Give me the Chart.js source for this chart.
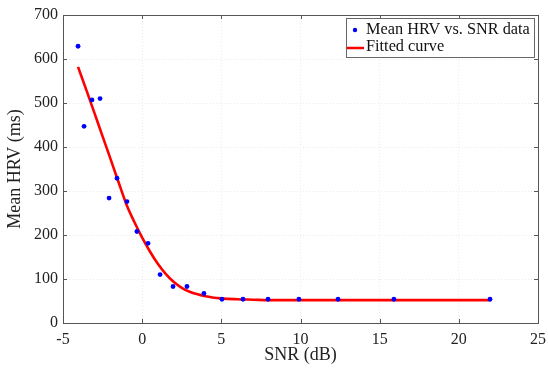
<!DOCTYPE html>
<html><head><meta charset="utf-8">
<script src="https://cdn.jsdelivr.net/npm/chart.js@4"></script>
<style>html,body{margin:0;padding:0;background:#fff}#wrap{width:548px;height:370px}</style>
</head><body><div id="wrap"><canvas id="c" width="548" height="370"></canvas></div>
<script>
const snrData = [-4.05,-3.67,-3.17,-2.66,-2.09,-1.59,-0.96,-0.33,0.37,1.13,1.95,2.83,3.9,5.04,6.37,7.95,9.9,12.37,15.9,21.97];
const hrvData = [629,447,507,510,284,329,276,208,181,110,83,83,67,54,54,54,54,54,54,54];
const fitX = [-4.05,-3.5,-3,-2.5,-2,-1.5,-1,-0.5,0,0.5,1,1.5,2,2.5,3,4,5,6,7,8,10,12,15,18,22];
const fitY = [582,527,476,424,373,321,270,230,194,162,134,111,93,80,71,61,56,54,53,52,52,52,52,52,52];
const xTicks = [-5,0,5,10,15,20,25];
const yTicks = [0,100,200,300,400,500,600,700];
const labels = ['Mean HRV vs. SNR data','Fitted curve'];

const FONT = '"Liberation Serif","Times New Roman",serif';
const legendPlugin = {
  id:'boxLegend',
  afterDraw(chart){
    const ctx=chart.ctx, a=chart.chartArea;
    const w=188,h=39,x=Math.round(a.right)-192,y=Math.round(a.top)+3;
    ctx.save();
    ctx.fillStyle='#fff';ctx.fillRect(x,y,w,h);
    ctx.strokeStyle='#666';ctx.lineWidth=1;ctx.strokeRect(x+0.5,y+0.5,w,h);
    ctx.font='16.3px '+FONT;ctx.textBaseline='middle';
    ctx.fillStyle='#0000ff';ctx.beginPath();ctx.arc(x+9,y+12,2.2,0,Math.PI*2);ctx.fill();
    ctx.fillStyle='#111';ctx.fillText(chart.data.datasets[0].label,x+20,y+12);
    ctx.strokeStyle='#ff0000';ctx.lineWidth=2.5;ctx.beginPath();ctx.moveTo(x+1,y+30);ctx.lineTo(x+18,y+30);ctx.stroke();
    ctx.fillText(chart.data.datasets[1].label,x+20,y+29);
    ctx.restore();
  }
};
const framePlugin = {
  id:'frame',
  afterDatasetsDraw(chart){
    const ctx=chart.ctx,a=chart.chartArea;
    ctx.save();ctx.strokeStyle='#555';ctx.lineWidth=1;
    ctx.strokeRect(Math.round(a.left)+0.5,Math.round(a.top)+0.5,Math.round(a.right-a.left),Math.round(a.bottom-a.top));
    const xs=chart.scales.x, ys=chart.scales.y;
    ctx.beginPath();
    xTicks.forEach(v=>{const p=Math.round(xs.getPixelForValue(v))+0.5;ctx.moveTo(p,a.bottom);ctx.lineTo(p,a.bottom-4);ctx.moveTo(p,a.top);ctx.lineTo(p,a.top+4);});
    yTicks.forEach(v=>{const p=Math.round(ys.getPixelForValue(v))+0.5;ctx.moveTo(a.left,p);ctx.lineTo(a.left+4,p);ctx.moveTo(a.right,p);ctx.lineTo(a.right-4,p);});
    ctx.stroke();ctx.restore();
  }
};
new Chart(document.getElementById('c'),{
  type:'scatter',
  data:{datasets:[
    {label:labels[0],data:snrData.map((x,i)=>({x,y:hrvData[i]})),backgroundColor:'#0000ff',borderColor:'#0000ff',pointRadius:2.4,pointBorderWidth:0,showLine:false,order:0},
    {label:labels[1],data:fitX.map((x,i)=>({x,y:fitY[i]})),borderColor:'#ff0000',backgroundColor:'#ff0000',borderWidth:2.6,pointRadius:0,showLine:true,cubicInterpolationMode:'monotone',order:1}
  ]},
  plugins:[framePlugin,legendPlugin],
  options:{
    responsive:false,animation:false,
    layout:{padding:{top:15,right:10,left:0,bottom:0}},
    plugins:{legend:{display:false},tooltip:{enabled:false}},
    scales:{
      x:{type:'linear',min:-5,max:25,
        afterBuildTicks(s){s.ticks=xTicks.map(v=>({value:v}));},
        afterFit(s){s.height=47;s.paddingRight=0;s.paddingLeft=0;},
        grid:{color:'#ececec',drawTicks:false},
        border:{display:false,dash:[1,2]},
        ticks:{color:'#222',font:{family:FONT,size:16},padding:7,maxRotation:0},
        title:{display:true,text:'SNR (dB)',color:'#222',font:{family:FONT,size:18},padding:{top:0}}
      },
      y:{type:'linear',min:0,max:700,
        afterBuildTicks(s){s.ticks=yTicks.map(v=>({value:v}));},
        afterFit(s){s.width=63;s.paddingTop=0;s.paddingBottom=0;},
        grid:{color:'#ececec',drawTicks:false},
        border:{display:false,dash:[1,2]},
        ticks:{color:'#222',font:{family:FONT,size:16},padding:5},
        title:{display:true,text:'Mean HRV (ms)',color:'#222',font:{family:FONT,size:18},padding:{bottom:2}}
      }
    }
  }
});
</script></body></html>
